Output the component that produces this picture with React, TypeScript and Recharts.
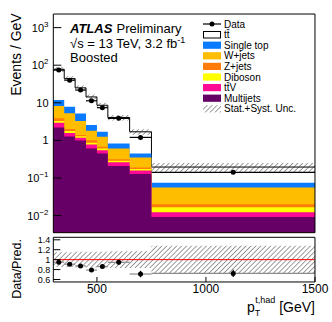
import React from "react";
import {
  ComposedChart,
  Area,
  Scatter,
  XAxis,
  YAxis,
  ErrorBar,
  ReferenceLine,
} from "recharts";

const FONT = "'Liberation Sans', Arial, Helvetica, sans-serif";

// p_T^{t,had} bin edges [GeV]
const binEdges = [300, 350, 400, 450, 500, 550, 650, 750, 1500];

// predicted events / GeV per bin
const multijets = [2.19, 1.26, 0.99, 0.61, 0.45, 0.207, 0.127, 0.0091];
const ttV = [0.75, 0.3, 0.18, 0.17, 0.1, 0.053, 0.03, 0.0031];
const diboson = [0.36, 0.21, 0.11, 0.09, 0.06, 0.027, 0.017, 0.0044];
const zJets = [0.55, 0.23, 0.12, 0.13, 0.065, 0.026, 0.016, 0.0034];
const wJets = [4.35, 3.3, 1.86, 0.8, 0.575, 0.297, 0.16, 0.036];
const singleTop = [3.6, 2.6, 1.9, 0.75, 0.44, 0.22, 0.1, 0.018];
const ttbar = [66.2, 36.1, 19.8, 11.75, 6.9, 3.24, 1.24, 0.121];

const dataValues = [74, 40, 21.8, 11.3, 7.4, 3.85, 1.2, 0.141];
const dataErrors = [1.2, 0.9, 0.65, 0.48, 0.38, 0.2, 0.11, 0.014];
// relative stat+syst uncertainty of the prediction
const relUnc = [0.15, 0.15, 0.16, 0.16, 0.16, 0.17, 0.17, 0.28];

const xMajor = [500, 1000, 1500];
const xMinor = [400, 600, 700, 800, 900, 1100, 1200, 1300, 1400];
const yMajor = [0.01, 0.1, 1, 10, 100, 1000];
const yMinor = [0.001, 0.01, 0.1, 1, 10, 100, 1000]
  .flatMap((d) => [2, 3, 4, 5, 6, 7, 8, 9].map((m) => m * d))
  .filter((v) => v > 0.0035 && v < 2300);
const ratioMajor = [0.6, 0.8, 1, 1.2, 1.4];
const ratioMinor = [0.65, 0.7, 0.75, 0.85, 0.9, 0.95, 1.05, 1.1, 1.15, 1.25, 1.3, 1.35];

const xDomain = [300, 1500];
const yDomain = [0.0035, 2300];
const ratioDomain = [0.55, 1.45];

const layers = [
  { key: "mj", name: "Multijets", values: multijets, color: "#660066" },
  { key: "ttv", name: "tt\u0304V", values: ttV, color: "#ff0a94" },
  { key: "dib", name: "Diboson", values: diboson, color: "#ffff00" },
  { key: "zj", name: "Z+jets", values: zJets, color: "#ff7b0a" },
  { key: "wj", name: "W+jets", values: wJets, color: "#ffbd00" },
  { key: "st", name: "Single top", values: singleTop, color: "#0a7aff" },
  { key: "tt", name: "tt\u0304", values: ttbar, color: "#ffffff" },
];

const nBins = binEdges.length - 1;
const totals = binEdges.slice(0, nBins).map((_, b) =>
  layers.reduce((s, l) => s + l.values[b], 0)
);

// step rows: one per bin edge, last edge repeats the last bin
const stepRows = binEdges.map((edge, i) => {
  const b = Math.min(i, nBins - 1);
  const row: any = { x: edge };
  let sum = 0;
  layers.forEach((l) => {
    sum += l.values[b];
    row[l.key] = sum;
  });
  row.band = [sum * (1 - relUnc[b]), sum * (1 + relUnc[b])];
  row.ratioBand = [1 - relUnc[b], 1 + relUnc[b]];
  return row;
});

const dataPoints = dataValues.map((v, i) => ({
  x: (binEdges[i] + binEdges[i + 1]) / 2,
  y: v,
  yerr: dataErrors[i],
  xerr: (binEdges[i + 1] - binEdges[i]) / 2,
  r: v / totals[i],
  rerr: dataErrors[i] / totals[i],
}));

const black = { stroke: "#000", strokeWidth: 1 };
const THIN = 0.01; // axes need a non-zero size to be drawn

const LogTick = ({ x, y, payload }: any) => {
  const exp = Math.round(Math.log10(payload.value));
  const base = {
    x,
    y: y + 4,
    textAnchor: "end" as const,
    fontSize: 11,
    fontFamily: FONT,
    fill: "#000",
  };
  if (exp === 0) return <text {...base}>1</text>;
  if (exp === 1) return <text {...base}>10</text>;
  return (
    <text {...base}>
      10
      <tspan fontSize={8} dy={-5}>
        {exp < 0 ? `\u2212${-exp}` : exp}
      </tspan>
    </text>
  );
};

const dot = (p: any) => <circle cx={p.cx} cy={p.cy} r={2.5} fill="#000" />;

function xFrame(p: string, major: number, minor: number, labels: boolean) {
  const common = {
    type: "number" as const,
    dataKey: "x",
    domain: xDomain,
    allowDataOverflow: true,
    interval: 0 as const,
    height: THIN,
    tickLine: black,
  };
  return [
    <XAxis key={p + "b"} xAxisId={p + "b"} {...common} ticks={xMajor} tickSize={-major}
      tickMargin={major + 2} axisLine={black}
      tick={labels ? { fill: "#000", fontSize: 12, fontFamily: FONT } : false} />,
    <XAxis key={p + "bm"} xAxisId={p + "bm"} {...common} ticks={xMinor} tickSize={-minor}
      axisLine={false} tick={false} />,
    <XAxis key={p + "t"} xAxisId={p + "t"} {...common} orientation="top" ticks={xMajor}
      tickSize={-major} axisLine={black} tick={false} />,
    <XAxis key={p + "tm"} xAxisId={p + "tm"} {...common} orientation="top" ticks={xMinor}
      tickSize={-minor} axisLine={false} tick={false} />,
  ];
}

export default function App() {
  return (
    <div style={{ position: "absolute", left: 0, top: 0, width: 332, height: 322, background: "#fff" }}>
      <div style={{ position: "absolute", left: 0, top: 0 }}>
        <ComposedChart width={332} height={240} data={stepRows}
          margin={{ top: 14, right: 17, bottom: 7.3, left: 53.3 }}>
          <defs>
            <pattern id="hatchMain" patternUnits="userSpaceOnUse" width={3.5} height={3.5}
              patternTransform="rotate(45)">
              <line x1={0} y1={0} x2={0} y2={3.5} stroke="#222" strokeWidth={0.9} />
            </pattern>
          </defs>
          {xFrame("m", 7, 4, false)}
          <YAxis yAxisId="l" type="number" scale="log" domain={yDomain} allowDataOverflow
            ticks={yMajor} interval={0} width={THIN} tickSize={-8} tickMargin={12.8}
            axisLine={black} tickLine={black} tick={<LogTick />} />
          <YAxis yAxisId="lm" type="number" scale="log" domain={yDomain} allowDataOverflow
            ticks={yMinor} interval={0} width={THIN} tickSize={-4}
            axisLine={false} tickLine={black} tick={false} />
          <YAxis yAxisId="r" orientation="right" type="number" scale="log" domain={yDomain}
            allowDataOverflow ticks={yMajor} interval={0} width={THIN} tickSize={-8}
            axisLine={black} tickLine={black} tick={false} />
          <YAxis yAxisId="rm" orientation="right" type="number" scale="log" domain={yDomain}
            allowDataOverflow ticks={yMinor} interval={0} width={THIN} tickSize={-4}
            axisLine={false} tickLine={black} tick={false} />
          {[...layers].reverse().map((l) => (
            <Area key={l.key} xAxisId="mb" yAxisId="l" type="stepAfter" dataKey={l.key}
              fill={l.color} fillOpacity={1}
              stroke={l.key === "tt" ? "#000" : "none"} strokeWidth={1}
              dot={false} activeDot={false} isAnimationActive={false} />
          ))}
          <Area xAxisId="mb" yAxisId="l" type="stepAfter" dataKey="band"
            fill="url(#hatchMain)" fillOpacity={1} stroke="none"
            dot={false} activeDot={false} isAnimationActive={false} />
          <Scatter xAxisId="mb" yAxisId="l" data={dataPoints} dataKey="y" shape={dot}
            isAnimationActive={false}>
            <ErrorBar dataKey="xerr" direction="x" width={0} stroke="#000" strokeWidth={1.2}
              isAnimationActive={false} />
            <ErrorBar dataKey="yerr" direction="y" width={0} stroke="#000" strokeWidth={1.2}
              isAnimationActive={false} />
          </Scatter>
        </ComposedChart>
      </div>

      <div style={{ position: "absolute", left: 0, top: 234 }}>
        <ComposedChart width={332} height={88} data={stepRows}
          margin={{ top: 3.3, right: 17, bottom: 40, left: 53.3 }}>
          <defs>
            <pattern id="hatchRatio" patternUnits="userSpaceOnUse" width={3.5} height={3.5}
              patternTransform="rotate(45)">
              <line x1={0} y1={0} x2={0} y2={3.5} stroke="#222" strokeWidth={0.9} />
            </pattern>
          </defs>
          {xFrame("r", 5, 3, true)}
          <YAxis yAxisId="l" type="number" domain={ratioDomain} allowDataOverflow
            ticks={ratioMajor} interval={0} width={THIN} tickSize={-7} tickMargin={10}
            axisLine={black} tickLine={black}
            tick={{ fill: "#000", fontSize: 9, fontFamily: FONT }} />
          <YAxis yAxisId="lm" type="number" domain={ratioDomain} allowDataOverflow
            ticks={ratioMinor} interval={0} width={THIN} tickSize={-3}
            axisLine={false} tickLine={black} tick={false} />
          <YAxis yAxisId="r" orientation="right" type="number" domain={ratioDomain}
            allowDataOverflow ticks={ratioMajor} interval={0} width={THIN} tickSize={-7}
            axisLine={black} tickLine={black} tick={false} />
          <YAxis yAxisId="rm" orientation="right" type="number" domain={ratioDomain}
            allowDataOverflow ticks={ratioMinor} interval={0} width={THIN} tickSize={-3}
            axisLine={false} tickLine={black} tick={false} />
          <Area xAxisId="rb" yAxisId="l" type="stepAfter" dataKey="ratioBand"
            fill="url(#hatchRatio)" fillOpacity={1} stroke="none"
            dot={false} activeDot={false} isAnimationActive={false} />
          <ReferenceLine xAxisId="rb" yAxisId="l" y={1} stroke="#ff0000" strokeWidth={1} />
          <Scatter xAxisId="rb" yAxisId="l" data={dataPoints} dataKey="r" shape={dot}
            isAnimationActive={false}>
            <ErrorBar dataKey="xerr" direction="x" width={0} stroke="#8a8a8a" strokeWidth={1.2}
              isAnimationActive={false} />
            <ErrorBar dataKey="rerr" direction="y" width={0} stroke="#000" strokeWidth={1.2}
              isAnimationActive={false} />
          </Scatter>
        </ComposedChart>
      </div>

      <svg width={332} height={322}
        style={{ position: "absolute", left: 0, top: 0, pointerEvents: "none" }}
        fontFamily={FONT}>
        <defs>
          <pattern id="hatchLegend" patternUnits="userSpaceOnUse" width={3.5} height={3.5}
            patternTransform="rotate(45)">
            <line x1={0} y1={0} x2={0} y2={3.5} stroke="#222" strokeWidth={0.9} />
          </pattern>
        </defs>
        <text transform="rotate(-90)" x={-13.3} y={20.5} textAnchor="end" fontSize={14}>
          Events / GeV
        </text>
        <text transform="rotate(-90)" x={-239} y={20.5} textAnchor="end" fontSize={12.5}>
          Data/Pred.
        </text>
        <text x={315} y={311.5} textAnchor="end" fontSize={14}>
          p<tspan fontSize={9} dy={4}>T</tspan>
          <tspan fontSize={9} dx={-5} dy={-13}>t,had</tspan>
          <tspan fontSize={14} dy={9}> [GeV]</tspan>
        </text>

        <text x={70} y={33.3} fontSize={13} fontWeight="bold" fontStyle="italic">ATLAS</text>
        <text x={116.5} y={33.3} fontSize={13}>Preliminary</text>
        <text x={70} y={47.5} fontSize={13}>
          {"\u221As = 13 TeV, 3.2 fb"}
          <tspan fontSize={9} dy={-5}>-1</tspan>
        </text>
        <text x={70} y={61.7} fontSize={13}>Boosted</text>

        {/* legend */}
        {(() => {
          const rowY = (i: number) => 24 + i * 10.6;
          const entries = [
            { name: "Data", kind: "data" },
            ...[...layers].reverse().map((l) => ({ name: l.name, kind: l.key, color: l.color })),
            { name: "Stat.+Syst. Unc.", kind: "unc" },
          ] as { name: string; kind: string; color?: string }[];
          return entries.map((e, i) => {
            const cy = rowY(i);
            let sym: React.ReactNode;
            if (e.kind === "data") {
              sym = (
                <g>
                  <line x1={203} x2={221} y1={cy} y2={cy} stroke="#000" strokeWidth={1.2} />
                  <circle cx={212} cy={cy} r={2.5} fill="#000" />
                </g>
              );
            } else if (e.kind === "unc") {
              sym = <rect x={203} y={cy - 3.6} width={18} height={7.2} fill="url(#hatchLegend)" />;
            } else if (e.kind === "tt") {
              sym = <rect x={203.5} y={cy - 3.1} width={17} height={6.5} fill="#fff" stroke="#000" strokeWidth={1} />;
            } else {
              sym = <rect x={203} y={cy - 3.6} width={18} height={7.2} fill={e.color} />;
            }
            return (
              <g key={e.name}>
                {sym}
                <text x={224} y={cy + 3.6} fontSize={10}>{e.name}</text>
              </g>
            );
          });
        })()}
      </svg>
    </div>
  );
}
